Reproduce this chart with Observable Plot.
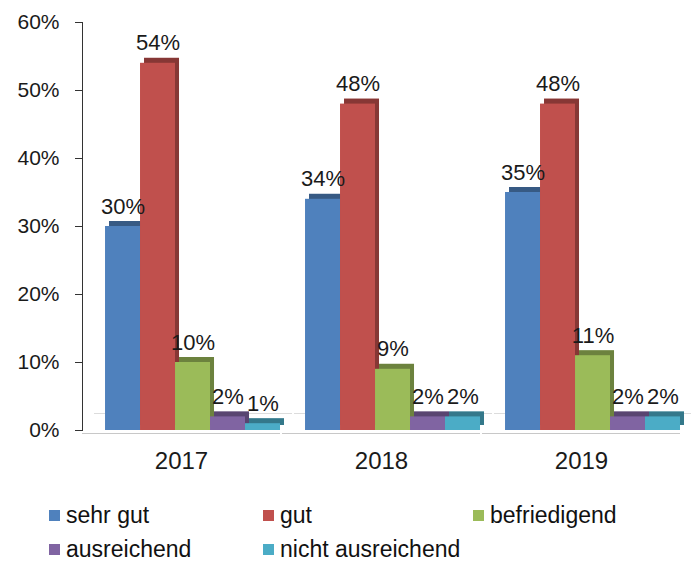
<!DOCTYPE html>
<html>
<head>
<meta charset="utf-8">
<script src="https://cdn.jsdelivr.net/npm/d3@7"></script>
<script src="https://cdn.jsdelivr.net/npm/@observablehq/plot@0.6"></script>
<style>
  html, body { margin: 0; padding: 0; background: #fff; }
  body { width: 691px; height: 563px; overflow: hidden; font-family: "Liberation Sans", Arial, sans-serif; }
  #legend { display: grid; grid-template-columns: 214px 210px 200px; row-gap: 7px; padding-left: 49px; margin-top: 12px; font-size: 23px; line-height: 27px; color: #111; }
  .item { display: flex; align-items: center; white-space: nowrap; }
  .sw { width: 11px; height: 11px; margin-right: 6px; display: inline-block; }
</style>
</head>
<body>
<div id="chart"></div>
<div id="legend"></div>
<script>
const years = ["2017", "2018", "2019"];
const categories = ["sehr gut", "gut", "befriedigend", "ausreichend", "nicht ausreichend"];
const colors = ["#4F81BD", "#C0504D", "#9BBB59", "#8064A2", "#4BACC6"];
const values2017 = [0.30, 0.54, 0.10, 0.02, 0.01];
const values2018 = [0.34, 0.48, 0.09, 0.02, 0.02];
const values2019 = [0.35, 0.48, 0.11, 0.02, 0.02];
const yTicks = [0, 0.1, 0.2, 0.3, 0.4, 0.5, 0.6];

const series = [values2017, values2018, values2019];
const data = [];
years.forEach((yr, i) => categories.forEach((c, j) => data.push({year: yr, cat: c, value: series[i][j]})));

const pct = d => Math.round(d * 100) + "%";
const font = "Liberation Sans, Arial, sans-serif";

const chart = Plot.plot({
  width: 691,
  height: 490,
  marginLeft: 82,
  marginRight: 11,
  marginTop: 22,
  marginBottom: 60,
  style: {fontFamily: font, color: "#1a1a1a", background: "#fff"},
  fx: {domain: years, paddingInner: 0.01, paddingOuter: 0, round: false, label: null, axis: null},
  x: {domain: categories, paddingInner: 0, paddingOuter: 0.329, align: 1, round: false, axis: null},
  y: {domain: [0, 0.6], axis: null},
  color: {domain: categories, range: colors},
  marks: [
    Plot.ruleY([0], {stroke: "#dcdcdc", dy: -17, dx: 12}),
    Plot.barY(data, {fx: "year", x: "cat", y: "value", fill: "cat", dx: 4, dy: -5}),
    Plot.barY(data, {fx: "year", x: "cat", y: "value", fill: "#000", fillOpacity: 0.3, dx: 4, dy: -5}),
    Plot.barY(data, {fx: "year", x: "cat", y: "value", fill: "cat"}),
    Plot.ruleY([0], {stroke: "#c8c8c8", dy: 3}),
    Plot.text(data, {fx: "year", x: "cat", y: "value", text: d => pct(d.value), dy: -20, fontSize: 22, fill: "#1a1a1a"}),
    Plot.axisY({ticks: yTicks, tickFormat: pct, tickSize: 7, tickPadding: 16, fontSize: 21, label: null, stroke: "#333"}),
    Plot.frame({anchor: "left", facetAnchor: "left", stroke: "#333"}),
    Plot.axisFx({anchor: "bottom", tickSize: 0, tickPadding: 21, fontSize: 24, label: null})
  ]
});
document.getElementById("chart").appendChild(chart);

const legend = document.getElementById("legend");
categories.forEach((c, i) => {
  const el = document.createElement("div");
  el.className = "item";
  el.innerHTML = `<span class="sw" style="background:${colors[i]}"></span>${c}`;
  legend.appendChild(el);
});
</script>
</body>
</html>
